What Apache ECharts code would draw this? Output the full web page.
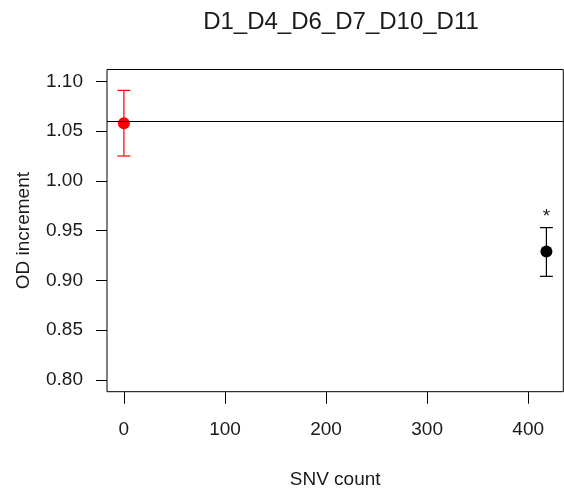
<!DOCTYPE html>
<html><head><meta charset="utf-8">
<script src="https://cdn.jsdelivr.net/npm/echarts@6/dist/echarts.min.js"></script>
<style>html,body{margin:0;padding:0;background:#fff}#c{width:564px;height:491px}</style>
</head><body><div id="c"></div>
<script>
const titleText = 'D1_D4_D6_D7_D10_D11';
const xLabel = 'SNV count';
const yLabel = 'OD increment';
const snvCount = [0, 418];
const odMean = [1.058, 0.929];
const odLower = [1.025, 0.904];
const odUpper = [1.091, 0.953];
const pointColors = ['#ff0000', '#000000'];
const sigMarks = ['', '*'];
const refLine = 1.058;
const xTicks = [0, 100, 200, 300, 400];
const yTicks = [0.80, 0.85, 0.90, 0.95, 1.00, 1.05, 1.10];
const xLim = [-16.72, 434.72];
const yLim = [0.788, 1.112];

const FONT = '"Liberation Sans", Arial, sans-serif';
const TXT = '#1a1a1a';

const chart = echarts.init(document.getElementById('c'), null, {renderer: 'canvas'});
const pts = snvCount.map((x, i) => ({value: [x, odMean[i]], itemStyle: {color: pointColors[i], opacity: 1}}));
const bars = snvCount.map((x, i) => [x, odLower[i], odUpper[i]]);

chart.setOption({
  animation: false,
  backgroundColor: '#fff',
  title: {
    text: titleText, left: 336, top: 5, textAlign: 'center',
    textStyle: {fontFamily: FONT, fontSize: 24, fontWeight: 'normal', color: TXT}
  },
  grid: {left: 107, right: 0.7, top: 69.5, bottom: 99.3, show: true, borderColor: '#000', borderWidth: 1,
         backgroundColor: 'transparent', containLabel: false, outerBoundsMode: 'none'},
  xAxis: {
    type: 'value', min: xLim[0], max: xLim[1],
    name: xLabel, nameLocation: 'middle', nameGap: 79,
    nameTextStyle: {fontFamily: FONT, fontSize: 19, color: TXT},
    axisLine: {show: false, onZero: false},
    axisTick: {show: true, length: 12, customValues: xTicks, lineStyle: {color: '#000', width: 1}},
    axisLabel: {customValues: xTicks, fontFamily: FONT, fontSize: 19, color: TXT, margin: 29, formatter: v => String(v)},
    splitLine: {show: false}
  },
  yAxis: {
    type: 'value', min: yLim[0], max: yLim[1],
    name: yLabel, nameLocation: 'middle', nameGap: 74,
    nameTextStyle: {fontFamily: FONT, fontSize: 19, color: TXT},
    axisLine: {show: false, onZero: false},
    axisTick: {show: true, length: 11, customValues: yTicks, lineStyle: {color: '#000', width: 1}},
    axisLabel: {customValues: yTicks, fontFamily: FONT, fontSize: 19, color: TXT, margin: 24, formatter: v => v.toFixed(2)},
    splitLine: {show: false}
  },
  series: [
    {
      type: 'custom',
      data: bars,
      z: 2,
      renderItem: (params, api) => {
        const i = params.dataIndex;
        const x = api.value(0), lo = api.value(1), hi = api.value(2);
        const pLo = api.coord([x, lo]), pHi = api.coord([x, hi]);
        const style = {stroke: pointColors[i], lineWidth: 1.2, fill: null};
        const hw = 6.5;
        const children = [
          {type: 'line', shape: {x1: pLo[0], y1: pLo[1], x2: pHi[0], y2: pHi[1]}, style},
          {type: 'line', shape: {x1: pLo[0] - hw, y1: pLo[1], x2: pLo[0] + hw, y2: pLo[1]}, style},
          {type: 'line', shape: {x1: pHi[0] - hw, y1: pHi[1], x2: pHi[0] + hw, y2: pHi[1]}, style}
        ];
        if (sigMarks[i]) {
          children.push({type: 'text', x: pHi[0], y: pHi[1] - 11,
            style: {text: sigMarks[i], fill: TXT, font: '19px ' + FONT, textAlign: 'center', textVerticalAlign: 'middle'}});
        }
        return {type: 'group', children};
      }
    },
    {
      type: 'scatter',
      data: pts,
      symbol: 'circle',
      symbolSize: 12,
      z: 3,
      markLine: {
        silent: true, symbol: 'none', animation: false,
        label: {show: false},
        lineStyle: {color: '#000', width: 1, type: 'solid'},
        data: [{yAxis: refLine}]
      }
    }
  ]
});
</script></body></html>
